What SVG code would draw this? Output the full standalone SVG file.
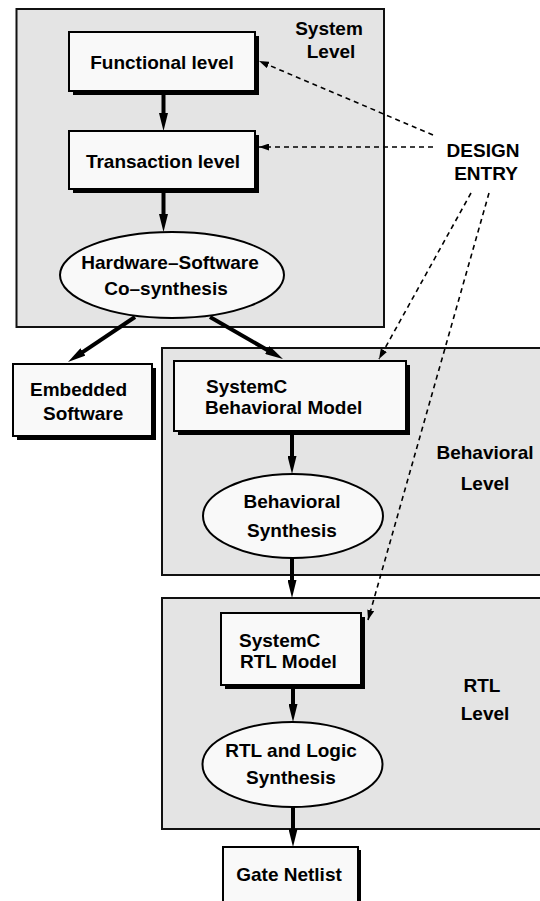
<svg xmlns="http://www.w3.org/2000/svg" width="540" height="901" viewBox="0 0 540 901">
<style>
  text { font-family: "Liberation Sans", Arial, Helvetica, sans-serif; font-weight: bold; font-size: 19px; fill: #000; }
  .mid { text-anchor: middle; }
  .level { fill: #e4e4e4; stroke: #111; stroke-width: 2; }
  .box { fill: #f9f9f9; stroke: #000; stroke-width: 2; }
  .shadow { fill: #000; }
  .ell { fill: #f9f9f9; stroke: #000; stroke-width: 2; }
  .solid { stroke: #000; stroke-width: 4; fill: none; marker-end: url(#big); }
  .dash { stroke: #000; stroke-width: 1.6; fill: none; stroke-dasharray: 5 4; marker-end: url(#small); }
</style>
<defs>
  <marker id="big" markerUnits="userSpaceOnUse" markerWidth="18" markerHeight="9" refX="8" refY="4.5" orient="auto">
    <path d="M0,0 L18,4.5 L0,9 z" fill="#000"/>
  </marker>
  <marker id="small" markerUnits="userSpaceOnUse" markerWidth="10" markerHeight="7" refX="10" refY="3.5" orient="auto">
    <path d="M0,0 L10,3.5 L0,7 z" fill="#000"/>
  </marker>
</defs>

<rect width="540" height="901" fill="#fff"/>

<g id="system-level">
  <rect class="level" x="16.5" y="9" width="367.5" height="318"/>
  <text class="mid" x="329" y="35">System</text>
  <text class="mid" x="331" y="58">Level</text>
</g>
<g id="behavioral-level">
  <rect class="level" x="162" y="348" width="388" height="227"/>
  <text class="mid" x="485" y="459">Behavioral</text>
  <text class="mid" x="485" y="490">Level</text>
</g>
<g id="rtl-level">
  <rect class="level" x="162" y="598" width="388" height="231"/>
  <text class="mid" x="482" y="692">RTL</text>
  <text class="mid" x="485" y="720">Level</text>
</g>

<g id="connectors">
  <line class="solid" x1="163.5" y1="91" x2="163.5" y2="121"/>
  <line class="solid" x1="163.5" y1="189" x2="163.5" y2="222"/>
  <line class="solid" x1="135" y1="317" x2="76.3" y2="356.4"/>
  <line class="solid" x1="210" y1="317" x2="274.3" y2="354"/>
  <line class="solid" x1="292" y1="431" x2="292" y2="464"/>
  <line class="solid" x1="292" y1="558" x2="292" y2="588"/>
  <line class="solid" x1="293" y1="685" x2="293" y2="712"/>
  <line class="solid" x1="293" y1="807" x2="293" y2="837"/>
  <line class="dash" x1="433" y1="135" x2="259" y2="61"/>
  <line class="dash" x1="433" y1="147" x2="259" y2="147"/>
  <line class="dash" x1="471" y1="193" x2="379" y2="359"/>
  <line class="dash" x1="489" y1="193" x2="368" y2="620"/>
</g>

<g id="design-entry">
  <text class="mid" x="483" y="157">DESIGN</text>
  <text class="mid" x="486" y="180">ENTRY</text>
</g>

<g id="functional-level">
  <rect class="shadow" x="73" y="36" width="186" height="59"/>
  <rect class="box" x="69" y="32" width="186" height="59"/>
  <text class="mid" x="162" y="69">Functional level</text>
</g>
<g id="transaction-level">
  <rect class="shadow" x="73" y="135" width="186" height="58"/>
  <rect class="box" x="69" y="131" width="186" height="58"/>
  <text class="mid" x="163" y="168">Transaction level</text>
</g>
<g id="hw-sw-cosynthesis">
  <ellipse class="ell" cx="172" cy="275" rx="112" ry="43"/>
  <text class="mid" x="170" y="269">Hardware–Software</text>
  <text class="mid" x="166" y="295">Co–synthesis</text>
</g>
<g id="embedded-software">
  <rect class="shadow" x="17" y="368" width="139" height="72"/>
  <rect class="box" x="13" y="364" width="139" height="72"/>
  <text x="30" y="396">Embedded</text>
  <text x="43" y="420">Software</text>
</g>
<g id="systemc-behavioral-model">
  <rect class="shadow" x="178" y="365" width="232" height="70"/>
  <rect class="box" x="174" y="361" width="232" height="70"/>
  <text x="206" y="393">SystemC</text>
  <text x="205" y="414">Behavioral Model</text>
</g>
<g id="behavioral-synthesis">
  <ellipse class="ell" cx="293" cy="516" rx="90" ry="42"/>
  <text class="mid" x="292" y="508">Behavioral</text>
  <text class="mid" x="292" y="537">Synthesis</text>
</g>
<g id="systemc-rtl-model">
  <rect class="shadow" x="225" y="617" width="140" height="72"/>
  <rect class="box" x="221" y="613" width="140" height="72"/>
  <text x="239" y="647">SystemC</text>
  <text x="240" y="668">RTL Model</text>
</g>
<g id="rtl-logic-synthesis">
  <ellipse class="ell" cx="292.5" cy="764.5" rx="90" ry="42.5"/>
  <text class="mid" x="291" y="757">RTL and Logic</text>
  <text class="mid" x="291" y="784">Synthesis</text>
</g>
<g id="gate-netlist">
  <rect class="shadow" x="226" y="850" width="135" height="60"/>
  <rect class="box" x="223" y="847" width="135" height="60"/>
  <text class="mid" x="289" y="881">Gate Netlist</text>
</g>
</svg>
